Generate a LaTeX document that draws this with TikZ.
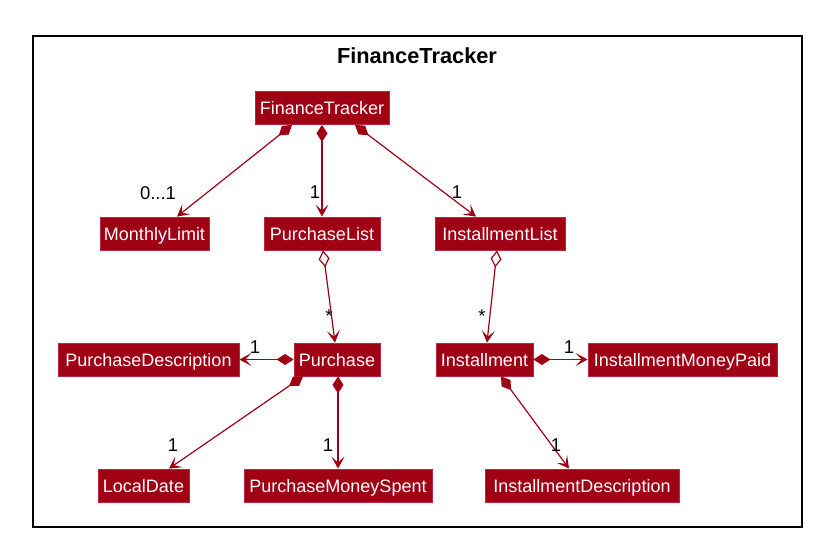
\documentclass[tikz,border=0pt]{standalone}
\usepackage{fontspec}
\newfontfamily\umlfont{Liberation Sans}
\usetikzlibrary{arrows.meta}

\definecolor{umlred}{RGB}{160,0,20}
\definecolor{umlborder}{RGB}{185,40,60}

\tikzset{
  cls/.style={draw=umlborder, line width=0.8pt, fill=umlred, text=white,
    font=\umlfont\fontsize{18}{20}\selectfont, minimum height=33pt,
    text height=13pt, text depth=0pt, inner sep=0pt},
  comp/.style={draw=umlred, line width=1.2pt,
    {Diamond[length=17pt,width=11pt]}-{Stealth[length=12pt,width=13pt,inset=6pt]}},
  aggr/.style={draw=umlred, line width=1.2pt,
    {Diamond[open,length=17pt,width=11pt]}-{Stealth[length=12pt,width=13pt,inset=6pt]}},
  mult/.style={font=\umlfont\fontsize{18.5}{20}\selectfont, text=black, inner sep=0pt},
}

\begin{document}
\begin{tikzpicture}[x=1pt,y=-1pt]
  \useasboundingbox (0,0) rectangle (817,543);
  % package frame
  \draw[line width=1.6pt] (33,36) rectangle (802,527);
  \node[font=\umlfont\bfseries\fontsize{21.8}{24}\selectfont, text height=15.5pt, text depth=0pt, inner sep=0pt] (title) at (417,55.5) {FinanceTracker};

  % classes
  \node[cls, minimum width=134pt] (ft) at (322,108) {FinanceTracker};
  \node[cls, minimum width=109pt] (ml) at (154.5,233.5) {MonthlyLimit};
  \node[cls, minimum width=116pt] (pl) at (322,233.5) {PurchaseList};
  \node[cls, minimum width=130pt] (il) at (500,233.5) {InstallmentList};
  \node[cls, minimum width=181pt] (pd) at (148.5,359.5) {PurchaseDescription};
  \node[cls, minimum width=86pt] (pu) at (337,359.5) {Purchase};
  \node[cls, minimum width=97pt] (in) at (484.5,359.5) {Installment};
  \node[cls, minimum width=189pt] (imp) at (682.5,359.5) {InstallmentMoneyPaid};
  \node[cls, minimum width=91pt] (ld) at (143.5,485.5) {LocalDate};
  \node[cls, minimum width=188pt] (pms) at (338,485.5) {PurchaseMoneySpent};
  \node[cls, minimum width=194pt] (idesc) at (582,485.5) {InstallmentDescription};

  % associations
  \draw[comp] ([xshift=-30pt]ft.south) -- ([xshift=22.5pt]ml.north);
  \draw[comp] (ft.south) -- (pl.north);
  \draw[comp] ([xshift=33pt]ft.south) -- ([xshift=-24pt]il.north);
  \draw[aggr] ([xshift=1pt]pl.south) -- ([xshift=-2pt]pu.north);
  \draw[aggr] ([xshift=-3pt]il.south) -- ([xshift=2.5pt]in.north);
  \draw[comp] (pu.west) -- (pd.east);
  \draw[comp] (in.east) -- (imp.west);
  \draw[comp] ([xshift=-34pt]pu.south) -- ([xshift=25.5pt]ld.north);
  \draw[comp] ([xshift=1pt]pu.south) -- (pms.north);
  \draw[comp] ([xshift=16.5pt]in.south) -- ([xshift=-13pt]idesc.north);

  % multiplicities
  \node[mult] (m1) at (158,193) {0...1};
  \node[mult] (m2) at (315,192) {1};
  \node[mult] (m3) at (457,192) {1};
  \node[mult] (m4) at (329,316) {*};
  \node[mult] (m5) at (482,316) {*};
  \node[mult] (m6) at (255,347) {1};
  \node[mult] (m7) at (569,347) {1};
  \node[mult] (m8) at (173,445) {1};
  \node[mult] (m9) at (328,445) {1};
  \node[mult] (m10) at (556,445) {1};
\end{tikzpicture}
\end{document}
